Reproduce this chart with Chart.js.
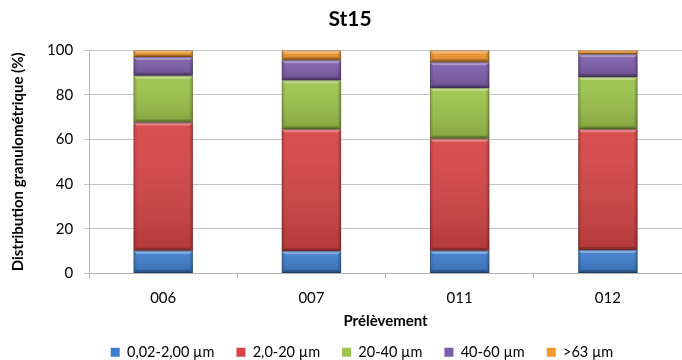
<!DOCTYPE html>
<html>
<head>
<meta charset="utf-8">
<script src="https://cdn.jsdelivr.net/npm/chart.js@4/dist/chart.umd.min.js"></script>
<style>
  html, body { margin: 0; padding: 0; background: #fff; }
  #wrap { width: 682px; height: 360px; }
</style>
</head>
<body>
<div id="wrap"><canvas id="st15"></canvas></div>
<script>
// sampling points and grain size fractions (%)
const prelevements = ['006', '007', '011', '012'];
const fraction002_200 = [10.2, 10.0, 10.2, 10.5];
const fraction2_20 = [57.4, 54.6, 50.2, 54.1];
const fraction20_40 = [21.0, 21.9, 22.7, 23.4];
const fraction40_60 = [8.4, 9.0, 11.5, 10.2];
const fraction63 = [3.0, 4.5, 5.4, 1.8];
const yTicks = [0, 20, 40, 60, 80, 100];

const FONT = 'Lato, "Open Sans", sans-serif';

// small bevel on each bar segment, office style
const bevel = {
  id: 'bevel',
  afterDatasetsDraw(chart) {
    const ctx = chart.ctx;
    chart.data.datasets.forEach((ds, i) => {
      const meta = chart.getDatasetMeta(i);
      if (meta.hidden) return;
      meta.data.forEach(bar => {
        const l = bar.x - bar.width / 2, r = bar.x + bar.width / 2;
        const t = Math.min(bar.y, bar.base), b = Math.max(bar.y, bar.base);
        const h = b - t;
        if (h < 1) return;
        const e = Math.min(3, h / 3);
        ctx.save();
        const g = ctx.createLinearGradient(0, t, 0, b);
        g.addColorStop(0, 'rgba(255,255,255,0.06)');
        g.addColorStop(1, 'rgba(0,0,0,0.16)');
        ctx.fillStyle = g;
        ctx.fillRect(l, t, r - l, h);
        const poly = (pts, col) => {
          ctx.beginPath();
          ctx.moveTo(pts[0][0], pts[0][1]);
          pts.slice(1).forEach(p => ctx.lineTo(p[0], p[1]));
          ctx.closePath();
          ctx.fillStyle = col;
          ctx.fill();
        };
        poly([[l, t], [r, t], [r - e, t + e], [l + e, t + e]], 'rgba(255,255,255,0.32)');
        poly([[l, b], [r, b], [r - e, b - e], [l + e, b - e]], 'rgba(0,0,0,0.22)');
        poly([[l, t], [l + e, t + e], [l + e, b - e], [l, b]], 'rgba(0,0,0,0.08)');
        poly([[r, t], [r - e, t + e], [r - e, b - e], [r, b]], 'rgba(0,0,0,0.12)');
        ctx.strokeStyle = 'rgba(0,0,0,0.25)';
        ctx.lineWidth = 1;
        ctx.strokeRect(l + 0.5, t + 0.5, r - l - 1, h - 1);
        ctx.restore();
      });
    });
  }
};

// title and legend are not centred on the canvas
const placeBoxes = {
  id: 'placeBoxes',
  beforeDraw(chart) {
    if (chart.titleBlock) {
      chart.titleBlock.left = 18;
      chart.titleBlock.right = 682;
    }
    const lg = chart.legend;
    if (lg) {
      lg.left = 42;
      lg.right = 682;
      lg.top = 323;
      lg.bottom = lg.top + lg.height;
    }
  }
};

new Chart(document.getElementById('st15'), {
  type: 'bar',
  data: {
    labels: prelevements,
    datasets: [
      { label: '0,02-2,00 µm', data: fraction002_200, backgroundColor: '#3e7dcc' },
      { label: '2,0-20 µm', data: fraction2_20, backgroundColor: '#d64444' },
      { label: '20-40 µm', data: fraction20_40, backgroundColor: '#9dc44b' },
      { label: '40-60 µm', data: fraction40_60, backgroundColor: '#7d5daa' },
      { label: '>63 µm', data: fraction63, backgroundColor: '#f39830' }
    ]
  },
  options: {
    responsive: true,
    maintainAspectRatio: false,
    animation: false,
    layout: { padding: { left: 0, right: -3, top: 0, bottom: -17 } },
    datasets: { bar: { barPercentage: 0.4, categoryPercentage: 1, borderWidth: 0 } },
    plugins: {
      title: {
        display: true,
        text: 'St15',
        color: '#000',
        font: { family: FONT, size: 21, weight: 'bold' },
        padding: { top: 7, bottom: 18 }
      },
      legend: {
        position: 'bottom',
        labels: {
          color: '#000',
          font: { family: FONT, size: 14.5 },
          boxWidth: 9,
          boxHeight: 9,
          padding: 22
        }
      },
      tooltip: { enabled: false }
    },
    scales: {
      x: {
        stacked: true,
        grid: {
          offset: true,
          drawOnChartArea: false,
          tickLength: 5,
          color: '#b4b4b4'
        },
        border: { color: '#b4b4b4' },
        ticks: { color: '#000', font: { family: FONT, size: 15 }, padding: 11 },
        title: {
          display: true,
          text: 'Prélèvement',
          color: '#000',
          font: { family: FONT, size: 15, weight: 'bold' },
          padding: { top: -6, bottom: 0 }
        }
      },
      y: {
        stacked: true,
        min: 0,
        max: 100,
        afterBuildTicks(scale) {
          scale.ticks = yTicks.map(v => ({ value: v }));
        },
        grid: { color: '#c4c4c4', tickLength: 5 },
        border: { color: '#b4b4b4' },
        ticks: { color: '#000', font: { family: FONT, size: 15 }, padding: 11 },
        title: {
          display: true,
          text: 'Distribution granulométrique (%)',
          color: '#000',
          font: { family: FONT, size: 15, weight: 'bold' },
          padding: { top: 9, bottom: 9 }
        }
      }
    }
  },
  plugins: [bevel, placeBoxes]
});
</script>
</body>
</html>
